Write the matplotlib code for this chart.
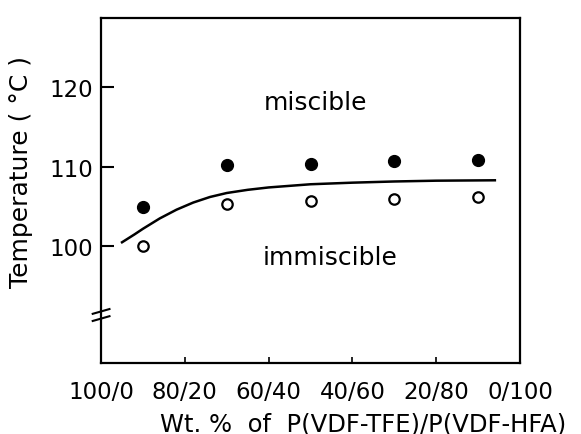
import matplotlib.pyplot as plt
import numpy as np

# composition: wt.% of P(VDF-HFA) in the blend
tick_pos = [0, 20, 40, 60, 80, 100]
tick_labels = ['100/0', '80/20', '60/40', '40/60', '20/80', '0/100']

comp = [10, 30, 50, 70, 90]
t_miscible = [104.9, 110.2, 110.4, 110.7, 110.9]     # filled circles
t_immiscible = [100.0, 105.3, 105.7, 105.9, 106.2]   # open circles

# boundary curve
curve_x = [5, 8, 10, 14, 18, 22, 26, 30, 35, 40, 50, 60, 70, 80, 94]
curve_y = [100.5, 101.5, 102.2, 103.5, 104.6, 105.5, 106.2, 106.7, 107.1, 107.4, 107.8, 108.0, 108.15, 108.25, 108.3]

fig = plt.figure(figsize=(5.81, 4.35), dpi=100)
ax = fig.add_axes([0.174, 0.163, 0.721, 0.793])

ax.plot(curve_x, curve_y, color='black', lw=1.8)
ax.plot(comp, t_miscible, 'o', color='black', ms=8.5)
ax.plot(comp, t_immiscible, 'o', mfc='white', mec='black', mew=1.6, ms=7.5)

ax.text(51.3, 118.1, 'miscible', fontsize=18, ha='center', va='center')
ax.text(54.6, 98.6, 'immiscible', fontsize=18, ha='center', va='center')

ax.set_xlim(0, 100)
ax.set_ylim(85.3, 128.7)
ax.set_xticks(tick_pos)
ax.set_xticklabels(tick_labels)
ax.set_yticks([100, 110, 120])
ax.tick_params(axis='x', direction='in', length=4, width=1.2, labelsize=16.5, pad=12)
ax.tick_params(axis='y', direction='in', length=9, width=1.5, labelsize=16.5, pad=6)
for s in ax.spines.values():
    s.set_linewidth(1.6)

# axis break marks
for yb in [91.8, 90.9]:
    ax.plot([-2.0, 2.0], [yb - 0.3, yb + 0.3], color='black', lw=1.5,
            clip_on=False)

ax.set_xlabel('Wt. %  of  P(VDF-TFE)/P(VDF-HFA)', fontsize=17.5)
ax.xaxis.set_label_coords(0.625, -0.14)
ax.set_ylabel('Temperature ( °C )', fontsize=18)
ax.yaxis.set_label_coords(-0.162, 0.557)

fig.savefig('out.png', dpi=100)
